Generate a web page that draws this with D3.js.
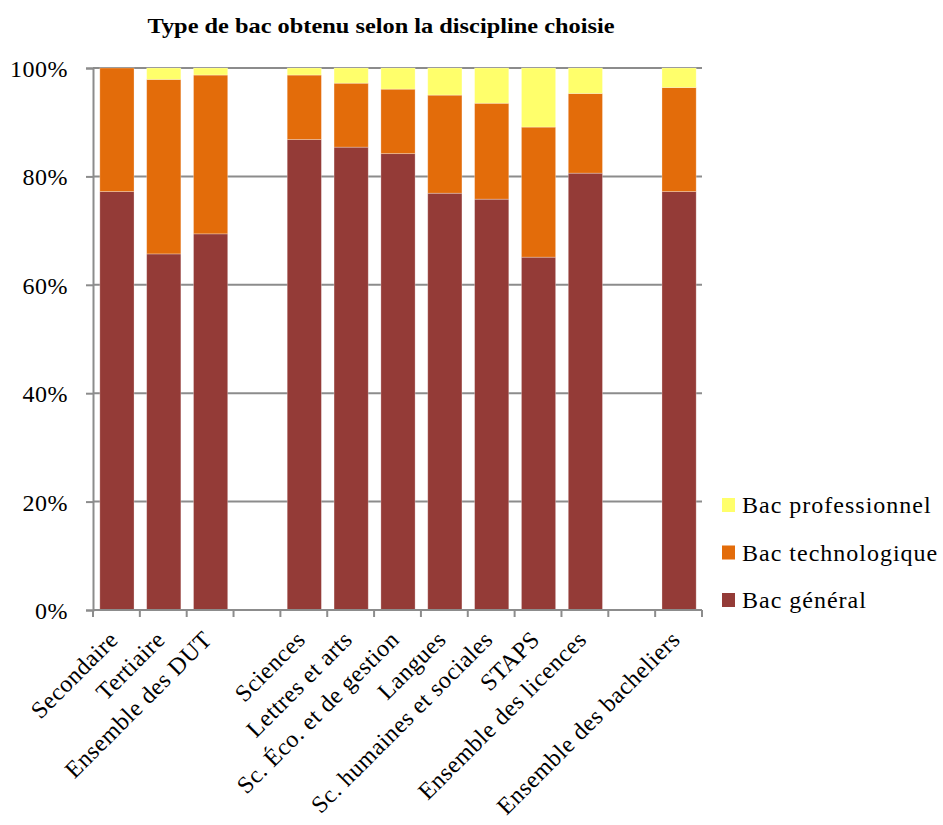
<!DOCTYPE html>
<html>
<head>
<meta charset="utf-8">
<script src="https://cdn.jsdelivr.net/npm/d3@7"></script>
<style>
  body { margin: 0; background: #fff; }
  text { font-family: "Liberation Serif", "Times New Roman", serif; fill: #000; }
</style>
</head>
<body>
<svg id="chart" width="943" height="825"></svg>
<script>
// categories (null = empty slot between groups)
var categories = [
  'Secondaire', 'Tertiaire', 'Ensemble des DUT', null,
  'Sciences', 'Lettres et arts', 'Sc. Éco. et de gestion', 'Langues',
  'Sc. humaines et sociales', 'STAPS', 'Ensemble des licences', null,
  'Ensemble des bacheliers'
];
var bacGeneral = [77.2, 65.7, 69.4, null, 86.8, 85.4, 84.2, 76.9, 75.8, 65.1, 80.6, null, 77.2];
var bacTechno  = [22.8, 32.2, 29.3, null, 11.9, 11.8, 11.9, 18.1, 17.7, 24.0, 14.7, null, 19.2];
var bacPro     = [0.0, 2.1, 1.3, null, 1.3, 2.8, 3.9, 5.0, 6.5, 10.9, 4.7, null, 3.6];
var seriesNames = ['Bac général', 'Bac technologique', 'Bac professionnel'];
var yTicks = [0, 20, 40, 60, 80, 100];
var title = 'Type de bac obtenu selon la discipline choisie';

var colors = ['#943b37', '#e36c0a', '#ffff6b'];
var gridColor = '#8c8c8c';

var svg = d3.select('#chart');

var rows = categories.map(function (c, i) {
  return { i: i, name: c, v: [bacGeneral[i], bacTechno[i], bacPro[i]] };
});

var x = d3.scaleBand().domain(d3.range(categories.length)).range([93, 702]).padding(0);
var y = d3.scaleLinear().domain([0, 100]).range([610, 68]);
var barW = x.bandwidth() * 0.73;

// gridlines
svg.append('g').selectAll('line')
  .data(yTicks.filter(function (t) { return t > 0; }))
  .enter().append('line')
    .attr('x1', x.range()[0]).attr('x2', x.range()[1])
    .attr('y1', function (d) { return y(d); })
    .attr('y2', function (d) { return y(d); })
    .attr('stroke', gridColor).attr('stroke-width', 2);

// stacked bars
var stack = d3.stack().keys([0, 1, 2]).value(function (d, k) { return d.v[k]; });
var stacked = stack(rows.filter(function (r) { return r.name !== null; }));

svg.append('g').selectAll('g')
  .data(stacked)
  .enter().append('g')
    .attr('fill', function (d, k) { return colors[k]; })
  .selectAll('rect')
  .data(function (d) { return d; })
  .enter().append('rect')
    .attr('x', function (d) { return x(d.data.i) + (x.bandwidth() - barW) / 2 + 0.5; })
    .attr('width', barW)
    .attr('y', function (d) { return y(d[1]); })
    .attr('height', function (d) { return y(d[0]) - y(d[1]); })
    .attr('stroke', '#fff').attr('stroke-opacity', 0.35).attr('stroke-width', 0.8);

// y axis
var yAxis = d3.axisLeft(y).tickValues(yTicks).tickSize(7).tickPadding(18)
  .tickFormat(function (d) { return d + '%'; });
var gy = svg.append('g').attr('transform', 'translate(93,0)').call(yAxis);
gy.select('.domain').attr('stroke', gridColor).attr('stroke-width', 2);
gy.selectAll('.tick line').attr('stroke', gridColor).attr('stroke-width', 2);
gy.selectAll('.tick text')
  .attr('font-family', '"Liberation Serif", serif')
  .attr('font-size', 24).attr('letter-spacing', 0.5).attr('dy', '0.35em');

// x axis line and ticks at slot boundaries
var bounds = d3.range(categories.length + 1).map(function (i) {
  return x.range()[0] + i * x.step();
});
svg.append('line')
  .attr('x1', x.range()[0]).attr('x2', x.range()[1])
  .attr('y1', 610).attr('y2', 610)
  .attr('stroke', gridColor).attr('stroke-width', 2);
svg.append('g').selectAll('line')
  .data(bounds).enter().append('line')
    .attr('x1', function (d) { return d; }).attr('x2', function (d) { return d; })
    .attr('y1', 610).attr('y2', 617)
    .attr('stroke', gridColor).attr('stroke-width', 2);

// rotated category labels
svg.append('g').selectAll('text')
  .data(rows.filter(function (r) { return r.name !== null; }))
  .enter().append('text')
    .attr('transform', function (d) {
      return 'translate(' + (x(d.i) + x.bandwidth() / 2 + 3) + ',641) rotate(-45)';
    })
    .attr('text-anchor', 'end')
    .attr('font-size', 24).attr('letter-spacing', 0.5)
    .text(function (d) { return d.name; });

// legend (reverse order)
var legend = svg.append('g').selectAll('g')
  .data([2, 1, 0]).enter().append('g')
    .attr('transform', function (d, i) { return 'translate(722,' + (498 + i * 47.5) + ')'; });
legend.append('rect')
  .attr('width', 13).attr('height', 14)
  .attr('fill', function (d) { return colors[d]; });
legend.append('text')
  .attr('x', 20).attr('y', 15)
  .attr('font-size', 24).attr('letter-spacing', 1)
  .text(function (d) { return seriesNames[d]; });

// title
svg.append('text')
  .attr('x', 381).attr('y', 33)
  .attr('text-anchor', 'middle')
  .attr('font-size', 21).attr('font-weight', 'bold')
  .attr('textLength', 467).attr('lengthAdjust', 'spacingAndGlyphs')
  .text(title);
</script>
</body>
</html>
